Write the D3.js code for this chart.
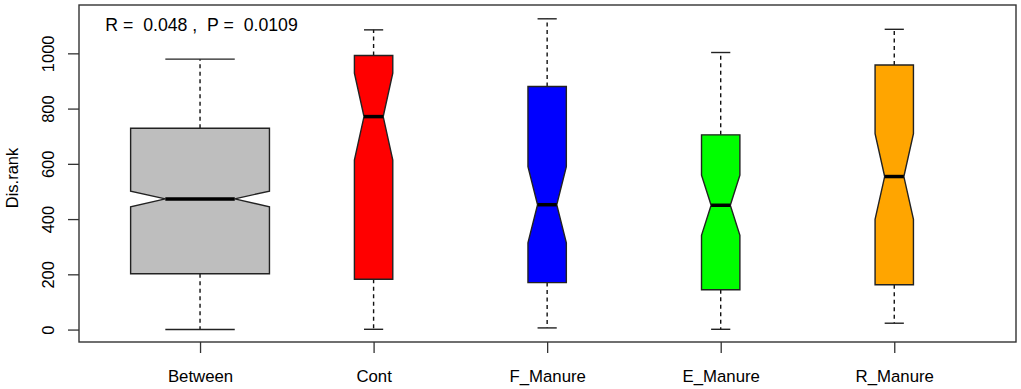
<!DOCTYPE html>
<html>
<head>
<meta charset="utf-8">
<script src="https://cdn.jsdelivr.net/npm/d3@7"></script>
<style>
  body { margin: 0; background: #fff; }
  svg { display: block; font-family: "Liberation Sans", Arial, sans-serif; }
</style>
</head>
<body>
<div id="chart"></div>
<script>
// ANOSIM dissimilarity ranks by group
const groups = ["Between", "Cont", "F_Manure", "E_Manure", "R_Manure"];
const groupSize = [864, 66, 66, 66, 66];   // number of distances per group
const whiskerLow = [0, 1, 6, 1, 23];
const q1 = [202, 182, 170, 144, 162];
const median = [473, 771, 452, 450, 554];
const q3 = [729, 992, 880, 705, 958];
const whiskerHigh = [979, 1085, 1125, 1003, 1087];
const yTicks = [0, 200, 400, 600, 800, 1000];
const statLabel = "R =  0.048 ,  P =  0.0109";

const fills = ["#bebebe", "#ff0000", "#0000ff", "#00ff00", "#ffa500"];

const W = 1021, H = 389;
const plot = { left: 79, right: 1016, top: 5, bottom: 342 };

const svg = d3.select('#chart')
  .append('svg')
  .attr('width', W)
  .attr('height', H);

const x = d3.scaleLinear()
  .domain([0.3, groups.length + 0.7])
  .range([plot.left - 0.45, plot.right - 0.25]);

const y = d3.scaleLinear()
  .domain([-45, 1175])
  .range([plot.bottom, plot.top]);

const maxN = d3.max(groupSize);

const boxes = groups.map((g, i) => {
  const n = groupSize[i];
  const iqr = q3[i] - q1[i];
  return {
    name: g,
    pos: i + 1,
    half: 0.4 * Math.sqrt(n / maxN),   // varwidth like R
    lo: whiskerLow[i],
    q1: q1[i],
    med: median[i],
    q3: q3[i],
    hi: whiskerHigh[i],
    nlo: median[i] - 1.58 * iqr / Math.sqrt(n),
    nhi: median[i] + 1.58 * iqr / Math.sqrt(n),
    fill: fills[i]
  };
});

// whiskers (dashed)
svg.append('g')
  .selectAll('line')
  .data(boxes.flatMap(d => [[d, d.q1, d.lo], [d, d.q3, d.hi]]))
  .join('line')
  .attr('x1', d => x(d[0].pos))
  .attr('x2', d => x(d[0].pos))
  .attr('y1', d => y(d[1]))
  .attr('y2', d => y(d[2]))
  .attr('stroke', '#111')
  .attr('stroke-width', 1.4)
  .attr('stroke-dasharray', '4,3.5');

// staples
svg.append('g')
  .selectAll('line')
  .data(boxes.flatMap(d => [[d, d.lo], [d, d.hi]]))
  .join('line')
  .attr('x1', d => x(d[0].pos - d[0].half / 2))
  .attr('x2', d => x(d[0].pos + d[0].half / 2))
  .attr('y1', d => y(d[1]))
  .attr('y2', d => y(d[1]))
  .attr('stroke', '#222')
  .attr('stroke-width', 1.4);

// notched boxes
const line = d3.line();
svg.append('g')
  .selectAll('path')
  .data(boxes)
  .join('path')
  .attr('d', d => {
    const w = d.half, wn = d.half / 2;
    const xs = [-w, w, w, wn, w, w, -w, -w, -wn, -w];
    const ys = [d.q1, d.q1, d.nlo, d.med, d.nhi, d.q3, d.q3, d.nhi, d.med, d.nlo];
    return line(xs.map((v, k) => [x(d.pos + v), y(ys[k])])) + 'Z';
  })
  .attr('fill', d => d.fill)
  .attr('stroke', '#222')
  .attr('stroke-width', 1.4);

// medians
svg.append('g')
  .selectAll('line')
  .data(boxes)
  .join('line')
  .attr('x1', d => x(d.pos - d.half / 2))
  .attr('x2', d => x(d.pos + d.half / 2))
  .attr('y1', d => y(d.med))
  .attr('y2', d => y(d.med))
  .attr('stroke', '#000')
  .attr('stroke-width', 3.5);

// frame
svg.append('rect')
  .attr('x', plot.left)
  .attr('y', plot.top)
  .attr('width', plot.right - plot.left)
  .attr('height', plot.bottom - plot.top)
  .attr('fill', 'none')
  .attr('stroke', '#333')
  .attr('stroke-width', 1.4);

// y axis
const yAxisGroup = svg.append('g')
  .attr('transform', `translate(${plot.left},0)`)
  .call(d3.axisLeft(y).tickValues(yTicks).tickSize(11).tickFormat(d3.format('d')));
yAxisGroup.select('.domain').remove();
yAxisGroup.selectAll('line').attr('stroke', '#333').attr('stroke-width', 1.3);
yAxisGroup.selectAll('text')
  .attr('x', null)
  .attr('dy', null)
  .attr('transform', 'translate(-25,0) rotate(-90)')
  .attr('text-anchor', 'middle')
  .attr('fill', '#000')
  .style('font-size', '16.5px');

// x axis
const xAxisGroup = svg.append('g')
  .attr('transform', `translate(0,${plot.bottom})`)
  .call(d3.axisBottom(x).tickValues(boxes.map(d => d.pos)).tickSize(11)
    .tickFormat((d, i) => groups[i]));
xAxisGroup.select('.domain').remove();
xAxisGroup.selectAll('line').attr('stroke', '#333').attr('stroke-width', 1.3);
xAxisGroup.selectAll('text')
  .attr('y', 40)
  .attr('dy', null)
  .attr('fill', '#000')
  .style('font-size', '16.8px');

// y axis title
svg.append('text')
  .attr('transform', 'translate(18,178) rotate(-90)')
  .attr('text-anchor', 'middle')
  .style('font-size', '16.5px')
  .text('Dis.rank');

// statistic label
svg.append('text')
  .attr('x', x(1) + 1.5)
  .attr('y', y(1080))
  .attr('text-anchor', 'middle')
  .style('font-size', '17.7px')
  .style('white-space', 'pre')
  .text(statLabel);
</script>
</body>
</html>
